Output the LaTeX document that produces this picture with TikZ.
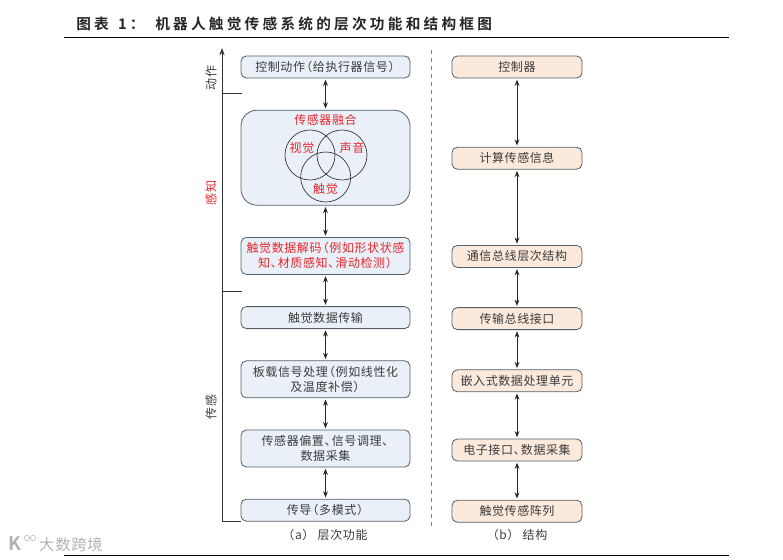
\documentclass[tikz,border=0pt]{standalone}
\usepackage{xcolor}
\usepackage{fontspec}
\setmainfont[LetterSpace=5]{Noto Sans CJK SC}
\newfontfamily\titlefont[LetterSpace=22]{Noto Sans CJK SC Bold}
\usetikzlibrary{arrows.meta,positioning}
\definecolor{boxblue}{RGB}{233,240,247}
\definecolor{boxorange}{RGB}{251,233,220}
\definecolor{edgegrey}{RGB}{85,95,105}
\definecolor{textgrey}{RGB}{60,60,60}
\definecolor{hotred}{RGB}{232,38,45}
% narrow punctuation
\newcommand\lpar{\kern-.4em（}
\newcommand\rpar{）\kern-.4em}
\newcommand\dun{、\kern-.4em}
\begin{document}
\begin{tikzpicture}[x=.75pt,y=-.75pt,node distance=23.55pt,
    every node/.style={font=\fontsize{9}{11.25}\selectfont,text=textgrey},
    levelbox/.style={draw=edgegrey,line width=.6pt,rounded corners=4pt,fill=boxblue,minimum width=126.75pt,minimum height=16.5pt,align=center,inner sep=0pt},
    twoline/.style={levelbox,minimum height=27.75pt},
    partbox/.style={levelbox,fill=boxorange,minimum width=97.5pt},
    venn/.style={circle,draw=black!80,line width=.5pt,minimum size=37.5pt,inner sep=0pt},
    redtext/.style={text=hotred},
    both/.style={{Stealth[length=4.6pt,width=3.6pt]}-{Stealth[length=4.6pt,width=3.6pt]},black!85,line width=.6pt,shorten <=1pt,shorten >=1pt},
    rule/.style={black,line width=.7pt}]
    \useasboundingbox (0,0) rectangle (783,560);
    % left column
    \node[levelbox] (act) at (325.5,67) {控制动作\lpar 给执行器信号\rpar};
    \node[levelbox,below=of act,minimum height=71.25pt,rounded corners=12pt] (fuse) {};
    \node[twoline,below=of fuse,redtext] (decode) {触觉数据解码\lpar 例如形状状感\\知\dun 材质感知\dun 滑动检测\rpar};
    \node[levelbox,below=of decode] (trans) {触觉数据传输};
    \node[twoline,below=of trans] (board) {板载信号处理\lpar 例如线性化\\及温度补偿\rpar};
    \node[twoline,below=of board] (bias) {传感器偏置\dun 信号调理\dun\\数据采集};
    \node[levelbox,below=of bias] (duct) {传导\lpar 多模式\rpar};
    \foreach \a/\b in {act/fuse,fuse/decode,decode/trans,trans/board,board/bias,bias/duct} \draw[both] (\a)--(\b);
    % venn
    \node[venn] (see) at (310,155) {};
    \node[venn] (hear) at (342,155) {};
    \node[venn] (feel) at (325.7,177) {};
    \node[redtext] (fusetitle) at (325.5,120) {传感器融合};
    \node[redtext] (seetext) at (302,148) {视觉};
    \node[redtext] (heartext) at (352,148) {声音};
    \node[redtext] (feeltext) at (325.5,189) {触觉};
    % right column
    \node[partbox] (ctrl) at (517,67) {控制器};
    \node[partbox,below=51.3pt of ctrl] (calc) {计算传感信息};
    \node[partbox,below=56.55pt of calc] (bus) {通信总线层次结构};
    \node[partbox,below=29.55pt of bus] (port) {传输总线接口};
    \node[partbox,below=29.55pt of port] (embed) {嵌入式数据处理单元};
    \node[partbox,below=34.8pt of embed] (daq) {电子接口\dun 数据采集};
    \node[partbox,below=28.8pt of daq] (array) {触觉传感阵列};
    \foreach \a/\b in {ctrl/calc,calc/bus,bus/port,port/embed,embed/daq,daq/array} \draw[both] (\a)--(\b);
    % axis
    \coordinate (axisbase) at (222,521.5);
    \coordinate (axistop) at (222,48);
    \coordinate (tickact) at (222,93);
    \coordinate (tickactend) at (242,93);
    \coordinate (tickfeel) at (222,291);
    \coordinate (tickfeelend) at (242,291);
    \draw[black!80,line width=.7pt,-{Stealth[length=5.5pt,width=4pt]}] (axisbase -| duct.west)--(axisbase)--(axistop);
    \draw[black!80,line width=.6pt] (tickact)--(tickactend) (tickfeel)--(tickfeelend);
    \node[rotate=90] (actlabel) at (211,78) {动作};
    \node[rotate=90,redtext] (feellabel) at (211,193) {感知};
    \node[rotate=90] (senselabel) at (211,407) {传感};
    % divider
    \coordinate (divtop) at (431,50);
    \coordinate (divbase) at (431,528);
    \draw[black!50,dashed,line width=.5pt] (divtop)--(divbase);
    \node (capa) at (325,535) {（a） 层次功能};
    \node (capb) at (517,535) {（b） 结构};
    % title and rules
    \node[anchor=west,inner sep=0pt,font=\titlefont\fontsize{11}{13}\selectfont,text=black!85] (title) at (76,24) {图表\hspace{2pt} 1：\hspace{8pt}机器人触觉传感系统的层次功能和结构框图};
    \coordinate (ruleleft) at (64,37.5);
    \coordinate (ruleright) at (729,37.5);
    \coordinate (footleft) at (64,555);
    \coordinate (footright) at (729,555);
    \draw[rule] (ruleleft)--(ruleright) (footleft)--(footright);
    % watermark
    \node[inner sep=0pt,text=black!30,font=\fontsize{11.5}{13}\selectfont] (mark) at (71,545) {大数跨境};
    \node[inner sep=0pt,text=black!30,font=\titlefont\fontsize{14}{14}\selectfont] (logo) at (15,544) {K};
    \node[circle,draw=black!30,minimum size=4pt,inner sep=0pt] (ringa) at (27,538) {};
    \node[circle,draw=black!30,minimum size=4pt,inner sep=0pt] (ringb) at (33,538) {};
  \end{tikzpicture}
\end{document}
